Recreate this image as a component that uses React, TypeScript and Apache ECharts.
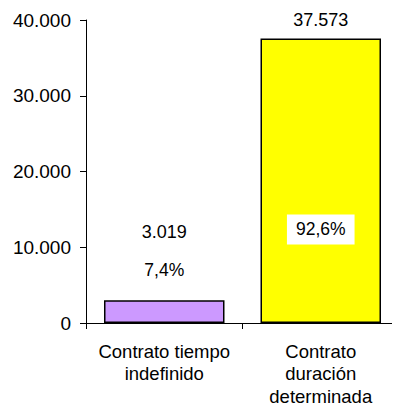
import React, { useEffect, useRef } from "react";
import * as echarts from "echarts";

const categories = ["Contrato tiempo\nindefinido", "Contrato\nduración\ndeterminada"];
const values = [3019, 37573];
const percents = ["7,4%", "92,6%"];
const barColors = ["#CC99FF", "#FFFF00"];
const yTicks = { min: 0, max: 40000, interval: 10000 };

const fmt = (v: number) => v.toLocaleString("de-DE");
const FONT = "'Liberation Sans', Arial, sans-serif";

export default function App() {
  const ref = useRef<HTMLDivElement>(null);
  useEffect(() => {
    if (!ref.current) return;
    const chart = echarts.init(ref.current, null, { renderer: "svg" });
    chart.setOption({
      animation: false,
      textStyle: { fontFamily: FONT, color: "#000" },
      grid: { left: 86, right: 1, top: 20, bottom: 89 },
      xAxis: {
        type: "category",
        data: categories,
        axisLine: { lineStyle: { color: "#000", width: 1 } },
        axisTick: { show: true, length: 6, lineStyle: { color: "#000" } },
        axisLabel: { color: "#000", fontSize: 18.5, lineHeight: 22.5, margin: 17, fontFamily: FONT, interval: 0 },
      },
      yAxis: {
        type: "value",
        min: yTicks.min,
        max: yTicks.max,
        interval: yTicks.interval,
        splitLine: { show: false },
        axisLine: { show: true, lineStyle: { color: "#000", width: 1 } },
        axisTick: { show: true, length: 6, lineStyle: { color: "#000" } },
        axisLabel: { color: "#000", fontSize: 19, margin: 15, fontFamily: FONT, formatter: (v: number) => fmt(v) },
      },
      series: [
        {
          type: "bar",
          barWidth: "77%",
          data: values.map((v, i) => ({
            value: v,
            itemStyle: { color: barColors[i], borderColor: "#000", borderWidth: 1.5 },
            label: {
              show: true,
              position: "top",
              distance: i === 0 ? 59 : 9,
              formatter: () => fmt(v),
              fontSize: 18,
              color: "#000",
              fontFamily: FONT,
            },
          })),
        },
        {
          type: "bar",
          barWidth: "77%",
          barGap: "-100%",
          silent: true,
          z: 3,
          data: values.map((v, i) => ({
            value: v,
            itemStyle: { color: "transparent", borderWidth: 0 },
            label:
              i === 0
                ? {
                    show: true,
                    position: "top",
                    distance: 21,
                    formatter: () => percents[i],
                    fontSize: 17.5,
                    color: "#000",
                    fontFamily: FONT,
                  }
                : {
                    show: true,
                    position: "insideTop",
                    distance: 176,
                    formatter: () => percents[i],
                    fontSize: 17.5,
                    color: "#000",
                    fontFamily: FONT,
                    backgroundColor: "#fff",
                    padding: [6, 9],
                  },
          })),
        },
      ],
    });
    return () => chart.dispose();
  }, []);
  return <div ref={ref} style={{ width: 400, height: 412, margin: -8 }} />;
}
